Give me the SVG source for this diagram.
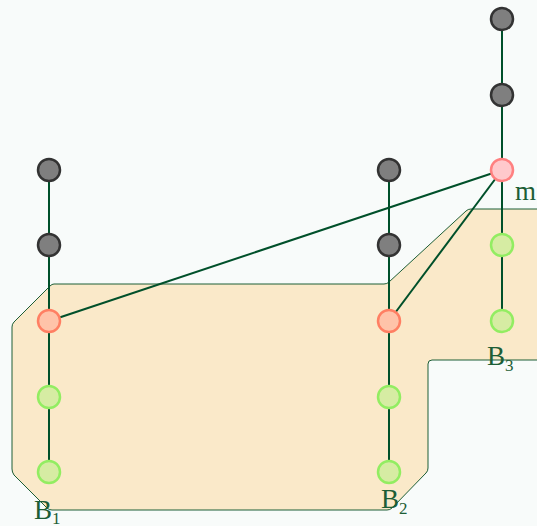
<svg xmlns="http://www.w3.org/2000/svg" width="537" height="526" viewBox="0 0 537 526">
<style>
.bg{fill:#f8fbfa}
.region{fill:#fae9c9;stroke:#1d5e36;stroke-width:1}
.edge{stroke:#00502a;stroke-width:2;fill:none}
.gray{fill:#7f7f7f;stroke:#333333;stroke-width:2.5}
.red{fill:#ffc3a9;stroke:#ff7f63;stroke-width:2.5}
.pink{fill:#ffc9cc;stroke:#ff8080;stroke-width:2.5}
.green{fill:#d6eca3;stroke:#92ed62;stroke-width:2.5}
.lbl{font-family:"Liberation Serif","DejaVu Serif",serif;font-size:27px;fill:#1d5e36}
.sub{font-size:17px}
</style>
<rect class="bg" x="0" y="0" width="537" height="526"/>
<g id="region">
<path class="region" d="M54,284 L384,284 Q387,284 389,282 L466,211 Q468,209 471,209 L540,209 L540,360 L432,360 Q428,360 428,364 L428,468 Q428,471 426,473 L392,508 Q390,510 387,510 L52,510 Q49,510 47,508 L14,475 Q12,472 12,469 L12,327 Q12,324 14,322 L50,286 Q52,284 54,284 Z"/>
</g>
<g id="connectors">
<line class="edge" x1="49" y1="170" x2="49" y2="472"/>
<line class="edge" x1="389" y1="170" x2="389" y2="472"/>
<line class="edge" x1="502" y1="19" x2="502" y2="321"/>
<line class="edge" x1="502" y1="170" x2="49" y2="321"/>
<line class="edge" x1="502" y1="170" x2="389" y2="321"/>
</g>
<g id="n1a"><circle class="gray" cx="49" cy="170" r="11"/></g>
<g id="n1b"><circle class="gray" cx="49" cy="245" r="11"/></g>
<g id="n1c"><circle class="red" cx="49" cy="321" r="11"/></g>
<g id="n1d"><circle class="green" cx="49" cy="397" r="11"/></g>
<g id="n1e"><circle class="green" cx="49" cy="472" r="11"/></g>
<g id="n2a"><circle class="gray" cx="389" cy="170" r="11"/></g>
<g id="n2b"><circle class="gray" cx="389" cy="245" r="11"/></g>
<g id="n2c"><circle class="red" cx="389" cy="321" r="11"/></g>
<g id="n2d"><circle class="green" cx="389" cy="397" r="11"/></g>
<g id="n2e"><circle class="green" cx="389" cy="472" r="11"/></g>
<g id="n3a"><circle class="gray" cx="502" cy="19" r="11"/></g>
<g id="n3b"><circle class="gray" cx="502" cy="95" r="11"/></g>
<g id="m"><circle class="pink" cx="502" cy="170" r="11"/></g>
<g id="n3d"><circle class="green" cx="502" cy="245" r="11"/></g>
<g id="n3e"><circle class="green" cx="502" cy="321" r="11"/></g>
<g id="labels">
<text class="lbl" x="34" y="519">B<tspan class="sub" dy="5">1</tspan></text>
<text class="lbl" x="381" y="508">B<tspan class="sub" dy="6">2</tspan></text>
<text class="lbl" x="487" y="365">B<tspan class="sub" dy="6">3</tspan></text>
<text class="lbl" x="515" y="200">m</text>
</g>
</svg>
